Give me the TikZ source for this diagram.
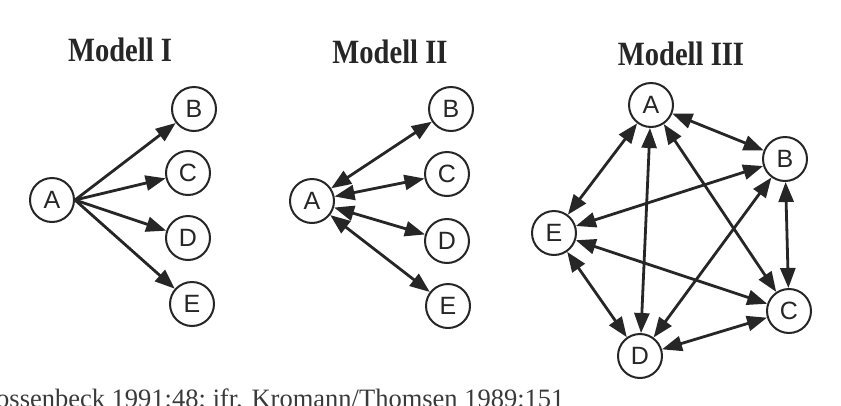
\documentclass[tikz,border=0pt]{standalone}
\usepackage{fontspec}
\setmainfont{Liberation Serif}
\newfontfamily\nodefont{Liberation Sans}
\usetikzlibrary{arrows.meta}
\definecolor{ink}{HTML}{262626}
\definecolor{captxt}{HTML}{3A3A3A}
\begin{document}
\begin{tikzpicture}[x=1pt,y=-1pt,
  >={Triangle[length=20pt,width=15pt]},
  nd/.style={circle,draw=ink,line width=2pt,fill=white,minimum size=44pt,inner sep=0pt,
    font=\nodefont\fontsize{25}{25}\selectfont,text=ink},
  edge/.style={draw=ink,line width=2.8pt},
  title/.style={font=\bfseries\fontsize{34}{34}\selectfont,xscale=0.84,anchor=base,text=ink,inner sep=0pt}
]
\useasboundingbox[fill=white] (0,0) rectangle (841,405);

% titles
\node[title] (t1) at (120,61) {Modell I};
\node[title] (t2) at (390,63) {Modell II};
\node[title] (t3) at (681,65) {Modell III};

% Modell I
\node[nd] (a1) at (52,200) {A};
\node[nd] (b1) at (194,109) {B};
\node[nd] (c1) at (188,173) {C};
\node[nd] (d1) at (188,238) {D};
\node[nd] (e1) at (192,304) {E};
\foreach \t in {b1,c1,d1,e1}
  \draw[edge,->] (a1.east) -- (\t);

% Modell II
\node[nd] (a2) at (312,201) {A};
\node[nd] (b2) at (451,109) {B};
\node[nd] (c2) at (447,174) {C};
\node[nd] (d2) at (447,241) {D};
\node[nd] (e2) at (448,306) {E};
\foreach \t in {b2,c2,d2,e2}
  \draw[edge,<->] (a2) -- (\t);

% Modell III
\node[nd] (a3) at (651,105) {A};
\node[nd] (b3) at (785,159) {B};
\node[nd] (c3) at (789,311) {C};
\node[nd] (d3) at (640,356) {D};
\node[nd] (e3) at (554,233) {E};
\draw[edge,<->] (a3) -- (b3);
\draw[edge,<->] (a3) -- (c3);
\draw[edge,<->] (a3) -- (d3);
\draw[edge,<->] (a3) -- (e3);
\draw[edge,<->] (b3) -- (c3);
\draw[edge,<->] (b3) -- (d3);
\draw[edge,<->] (b3) -- (e3);
\draw[edge,<->] (c3) -- (d3);
\draw[edge,<->] (c3) -- (e3);
\draw[edge,<->] (d3) -- (e3);

% caption (cut at the picture's edges, as in the reference)
\node[anchor=base west,inner sep=0pt,font=\fontsize{26.5}{26.5}\selectfont,text=captxt] (cap) at (-4,407)
  {ossenbeck 1991:48; jfr. Kromann/Thomsen 1989:151};
\end{tikzpicture}
\end{document}
